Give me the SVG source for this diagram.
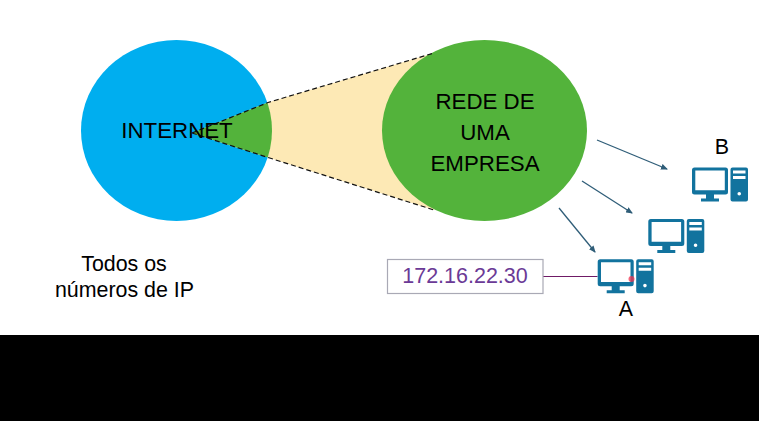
<svg xmlns="http://www.w3.org/2000/svg" width="759" height="421" viewBox="0 0 759 421">
<style>
text{font-family:"Liberation Sans",Arial,sans-serif;fill:#000}
.big{font-size:22.300px;text-anchor:middle}
.mid{font-size:21.400px;text-anchor:middle}
.dash{fill:none;stroke:#111;stroke-width:1.2;stroke-dasharray:5 3}
.arrow{fill:none;stroke:#2f5d78;stroke-width:1.3;marker-end:url(#ah)}
.pc{fill:#12739e}
</style>
<defs>
<marker id="ah" markerWidth="7" markerHeight="6" refX="6" refY="3" orient="auto" markerUnits="userSpaceOnUse"><path d="M0 0L7 3L0 6Z" fill="#2f5d78"/></marker>
<clipPath id="inet"><ellipse cx="176.500" cy="130.500" rx="95.500" ry="90.500"/></clipPath>
<g id="pc">
<path class="pc" fill-rule="evenodd" d="M2.500 0H33.500Q36 0 36 2.500V24.500Q36 27 33.500 27H22V31H27V34H9V31H14V27H2.500Q0 27 0 24.500V2.500Q0 0 2.500 0ZM3.300 3V22.800H32.800V3Z"/>
<path class="pc" fill-rule="evenodd" d="M40.500 0H54Q56 0 56 2V32Q56 34 54 34H40.500Q38.500 34 38.500 32V2Q38.500 0 40.500 0ZM41 3V6H53.500V3ZM41 8.500V11.500H53.500V8.500ZM47.250 24.500A1.800 1.800 0 1 0 47.250 28.100A1.800 1.800 0 1 0 47.250 24.500Z"/>
</g>
</defs>
<rect width="759" height="421" fill="#fff"/>
<g id="internet">
<ellipse cx="176.500" cy="130.500" rx="95.500" ry="90.500" fill="#00aeef"/>
</g>
<g id="cone">
<polygon points="192,133 268,102.500 434,53 434,210 268,157.500" fill="#fde9b5"/>
<polygon points="192,133 268,102.500 434,53 434,210 268,157.500" fill="#53b33b" clip-path="url(#inet)"/>
</g>
<g id="empresa">
<ellipse cx="484.500" cy="130.500" rx="102.500" ry="90.500" fill="#53b33b"/>
<text class="big" x="485" y="109">REDE DE</text>
<text class="big" x="485" y="140">UMA</text>
<text class="big" x="485" y="171">EMPRESA</text>
</g>
<g id="connectors">
<path class="dash" d="M192 133L268 102.500L434 53M192 133L268 157.500L434 210"/>
<path class="arrow" d="M597 140L667 169"/>
<path class="arrow" d="M582 181L632 213"/>
<path class="arrow" d="M559 208L595 252"/>
<path d="M543 276.500H597.500" fill="none" stroke="#6f1a66" stroke-width="1.100"/>
</g>
<g id="internet-label"><text class="big" x="177" y="138">INTERNET</text></g>
<g id="ip-caption">
<text class="mid" x="124" y="271">Todos os</text>
<text class="mid" x="124.500" y="297">números de IP</text>
</g>
<g id="ip-box">
<rect x="387.500" y="259.500" width="155.500" height="34" fill="#fff" stroke="#a9a9b5" stroke-width="1.200"/>
<text x="465" y="283" font-size="21.500" text-anchor="middle" style="fill:#6b3a96">172.16.22.30</text>
</g>
<g id="pc-b"><use href="#pc" x="692" y="167.500"/><text class="mid" x="722" y="154">B</text></g>
<g id="pc-mid"><use href="#pc" x="648.300" y="219"/></g>
<g id="pc-a"><use href="#pc" x="597.700" y="259.300"/><circle cx="631.500" cy="279" r="3" fill="#f0334f" opacity=".75"/><text class="mid" x="626" y="316">A</text></g>
<rect id="black-band" x="0" y="335" width="759" height="86" fill="#000"/>
</svg>
